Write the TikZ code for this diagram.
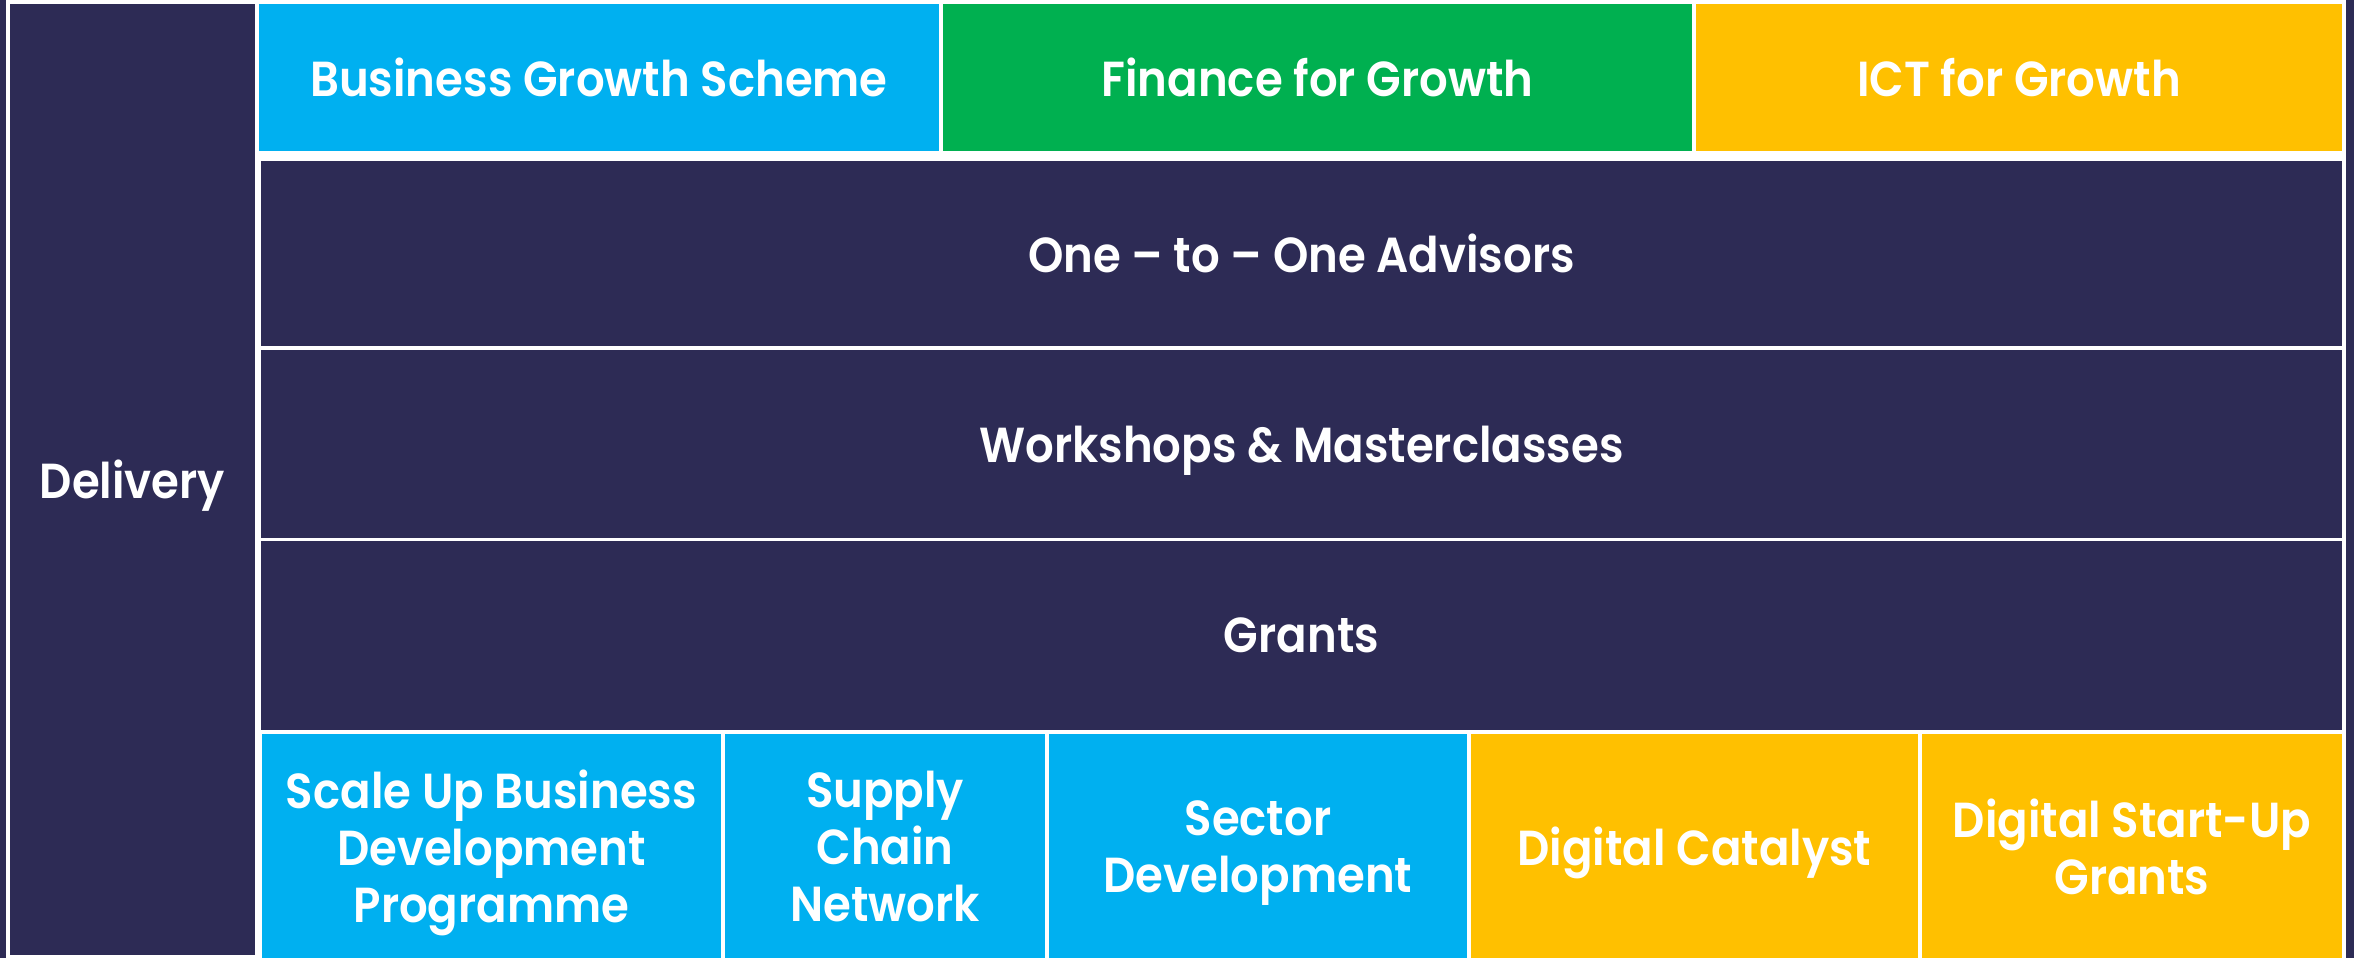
\documentclass[tikz,border=0pt]{standalone}
\usepackage{fontspec}
\setmainfont{Poppins}[BoldFont={Poppins SemiBold}, BoldFeatures={FakeStretch=0.915}]
\definecolor{navy}{HTML}{2D2B55}
\definecolor{bgscyan}{HTML}{00B0F0}
\definecolor{fgreen}{HTML}{00B050}
\definecolor{ictyellow}{HTML}{FFC000}
\tikzset{
  cell/.style={draw=white, line width=0.8pt, inner sep=0pt, text=white,
    font=\bfseries\fontsize{14}{16.2}\selectfont, align=center, text depth=0pt},
}
\begin{document}
\begin{tikzpicture}
\useasboundingbox (0,0) rectangle (23.54,-9.58);
\fill[white] (0,0) rectangle (23.54,-9.58);
\fill[navy] (0,0) rectangle (0.06,-9.58);
\fill[navy] (23.46,0) rectangle (23.54,-9.58);
% left column
\node[cell, fill=navy, minimum width=2.47cm, minimum height=9.53cm] (delivery) at (1.325,-4.795) {Delivery};
% top row
\node[cell, fill=bgscyan, minimum width=6.82cm, minimum height=1.49cm] (bgs) at (5.99,-0.775) {Business Growth Scheme};
\node[cell, fill=fgreen, minimum width=7.51cm, minimum height=1.49cm] (fin) at (13.175,-0.775) {Finance for Growth};
\node[cell, fill=ictyellow, minimum width=6.48cm, minimum height=1.49cm] (ict) at (20.19,-0.775) {ICT for Growth};
% middle rows
\node[cell, fill=navy, minimum width=20.83cm, minimum height=1.87cm] (one) at (13.015,-2.535) {One – to – One Advisors};
\node[cell, fill=navy, minimum width=20.83cm, minimum height=1.90cm] (work) at (13.015,-4.44) {Workshops \& Masterclasses};
\node[cell, fill=navy, minimum width=20.83cm, minimum height=1.91cm] (grants) at (13.015,-6.355) {Grants};
% bottom row
\node[cell, fill=bgscyan, minimum width=4.61cm, minimum height=2.27cm] (scale) at (4.915,-8.465) {Scale Up Business\\Development\\Programme};
\node[cell, fill=bgscyan, minimum width=3.22cm, minimum height=2.27cm] (supply) at (8.85,-8.465) {Supply\\Chain\\Network};
\node[cell, fill=bgscyan, minimum width=4.20cm, minimum height=2.27cm] (sector) at (12.58,-8.465) {Sector\\Development};
\node[cell, fill=ictyellow, minimum width=4.49cm, minimum height=2.27cm] (catalyst) at (16.945,-8.465) {Digital Catalyst};
\node[cell, fill=ictyellow, minimum width=4.22cm, minimum height=2.27cm] (startup) at (21.32,-8.465) {Digital Start-Up\\Grants};
\end{tikzpicture}
\end{document}
